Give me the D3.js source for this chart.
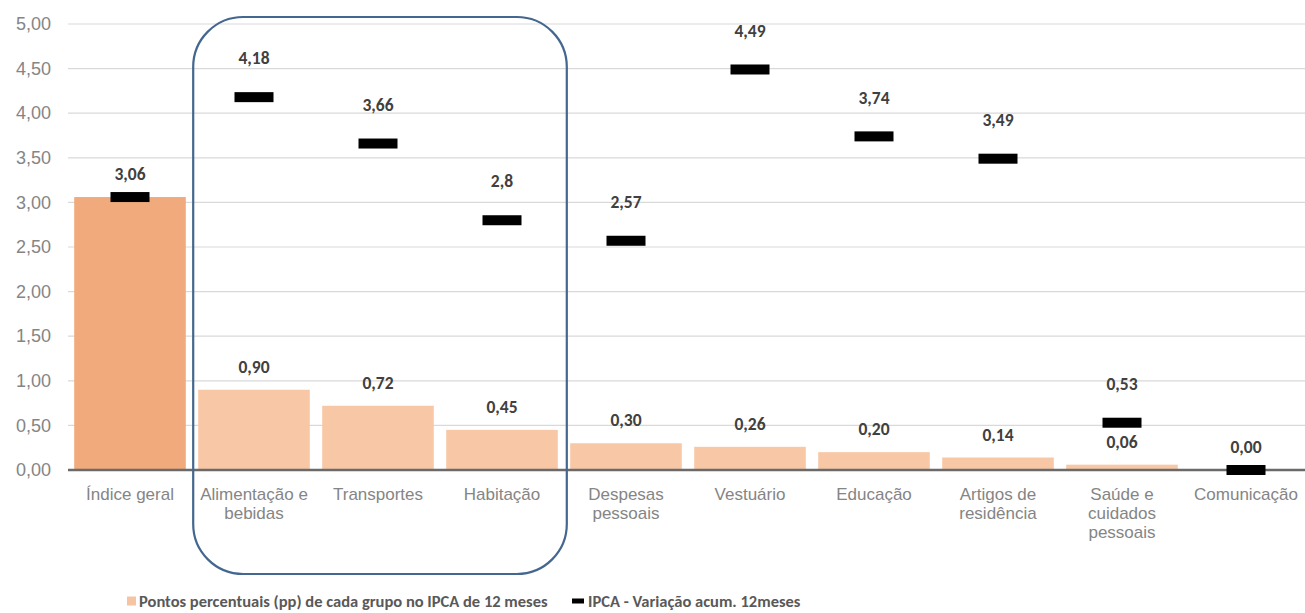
<!DOCTYPE html>
<html lang="pt-BR">
<head>
<meta charset="utf-8">
<title>IPCA 12 meses por grupo</title>
<script src="https://cdn.jsdelivr.net/npm/d3@7"></script>
<style>
  html, body { margin: 0; padding: 0; background: #ffffff; }
  svg { display: block; font-family: Carlito, Calibri, Lato, "Liberation Sans", sans-serif; }
</style>
</head>
<body>
<svg id="chart" width="1305" height="613"></svg>
<script>
// Grupos do IPCA (quebras de linha marcam como o rótulo é exibido)
const categories = [
  "Índice geral",
  "Alimentação e\nbebidas",
  "Transportes",
  "Habitação",
  "Despesas\npessoais",
  "Vestuário",
  "Educação",
  "Artigos de\nresidência",
  "Saúde e\ncuidados\npessoais",
  "Comunicação"
];
// Pontos percentuais de cada grupo no IPCA de 12 meses
const ppValues = [3.06, 0.90, 0.72, 0.45, 0.30, 0.26, 0.20, 0.14, 0.06, 0.00];
// IPCA – variação acumulada em 12 meses
const ipcaValues = [3.06, 4.18, 3.66, 2.80, 2.57, 4.49, 3.74, 3.49, 0.53, 0.00];
const yTicks = [0, 0.5, 1, 1.5, 2, 2.5, 3, 3.5, 4, 4.5, 5];
// Grupos destacados pelo quadro arredondado
const highlighted = ["Alimentação e\nbebidas", "Transportes", "Habitação"];
const legendLabels = [
  "Pontos percentuais (pp) de cada grupo no IPCA de 12 meses",
  "IPCA - Variação acum. 12meses"
];

const svg = d3.select("#chart");
const W = 1305;
const plot = { left: 68, right: 1308, top: 24, bottom: 470 };

const x = d3.scaleBand()
  .domain(categories)
  .range([plot.left, plot.right])
  .paddingInner(0.1)
  .paddingOuter(0.05);

const y = d3.scaleLinear()
  .domain([0, 5])
  .range([plot.bottom, plot.top]);

const fmt = v => d3.format(".2f")(v).replace(".", ",");
const fmtShort = v => String(+v.toFixed(2)).replace(".", ",");

// Linhas de grade horizontais
svg.append("g")
  .selectAll("line")
  .data(yTicks.filter(t => t > 0))
  .join("line")
  .attr("x1", plot.left)
  .attr("x2", W)
  .attr("y1", d => y(d))
  .attr("y2", d => y(d))
  .attr("stroke", "#d9d9d9")
  .attr("stroke-width", 1.2);

// Eixo Y (somente rótulos)
const yAxis = svg.append("g")
  .attr("transform", `translate(${plot.left},0)`)
  .call(d3.axisLeft(y).tickValues(yTicks).tickFormat(fmt).tickSize(0).tickPadding(17));
yAxis.select(".domain").remove();
yAxis.selectAll("text")
  .attr("fill", "#858585")
  .style("font-size", "18px");

// Barras
const idx = d3.range(categories.length);
svg.append("g")
  .selectAll("rect")
  .data(idx)
  .join("rect")
  .attr("x", i => x(categories[i]))
  .attr("width", x.bandwidth())
  .attr("y", i => y(ppValues[i]))
  .attr("height", i => y(0) - y(ppValues[i]))
  .attr("fill", i => i === 0 ? "#f1aa7b" : "#f8c8a6");

// Linha do eixo X
svg.append("line")
  .attr("x1", plot.left)
  .attr("x2", W)
  .attr("y1", y(0))
  .attr("y2", y(0))
  .attr("stroke", "#6a6a6a")
  .attr("stroke-width", 2.5);

// Rótulos das categorias
const xAxis = svg.append("g")
  .attr("transform", `translate(0,${y(0)})`)
  .call(d3.axisBottom(x).tickSize(0).tickFormat(""));
xAxis.select(".domain").remove();
xAxis.selectAll(".tick").each(function(d) {
  const t = d3.select(this).append("text")
    .attr("text-anchor", "middle")
    .attr("fill", "#858585")
    .style("font-size", "17px");
  d.split("\n").forEach((line, k) => {
    t.append("tspan")
      .attr("x", 0)
      .attr("y", 30 + k * 19)
      .text(line);
  });
});

// Rótulos das barras
svg.append("g")
  .selectAll("text")
  .data(idx)
  .join("text")
  .attr("x", i => x(categories[i]) + x.bandwidth() / 2)
  .attr("y", i => y(ppValues[i]) - 23)
  .attr("dy", "0.35em")
  .attr("text-anchor", "middle")
  .attr("fill", "#404040")
  .style("font-size", "17.5px")
  .style("font-weight", "bold")
  .text(i => fmt(ppValues[i]));

// Marcadores do IPCA acumulado
const markW = 39, markH = 10;
svg.append("g")
  .selectAll("rect")
  .data(idx)
  .join("rect")
  .attr("x", i => x(categories[i]) + x.bandwidth() / 2 - markW / 2)
  .attr("y", i => y(ipcaValues[i]) - markH / 2)
  .attr("width", markW)
  .attr("height", markH)
  .attr("fill", "#000000");

// Rótulos dos marcadores (omitidos quando coincidem com o da barra)
svg.append("g")
  .selectAll("text")
  .data(idx.filter(i => ipcaValues[i] !== ppValues[i]))
  .join("text")
  .attr("x", i => x(categories[i]) + x.bandwidth() / 2)
  .attr("y", i => y(ipcaValues[i]) - 39)
  .attr("dy", "0.35em")
  .attr("text-anchor", "middle")
  .attr("fill", "#404040")
  .style("font-size", "17.5px")
  .style("font-weight", "bold")
  .text(i => fmtShort(ipcaValues[i]));

// Quadro arredondado em volta dos grupos destacados
const hx0 = x(highlighted[0]) - 5;
const hx1 = x(highlighted[highlighted.length - 1]) + x.bandwidth() + 9;
svg.append("rect")
  .attr("x", hx0)
  .attr("y", y(5) - 7)
  .attr("width", hx1 - hx0)
  .attr("height", 574 - (y(5) - 7))
  .attr("rx", 50)
  .attr("ry", 50)
  .attr("fill", "none")
  .attr("stroke", "#44678f")
  .attr("stroke-width", 2.2);

// Legenda
const legend = svg.append("g").attr("transform", "translate(0,601)");
legend.append("rect")
  .attr("x", 127).attr("y", -4.5)
  .attr("width", 9).attr("height", 9)
  .attr("fill", "#f6c4a2");
legend.append("text")
  .attr("x", 139).attr("dy", "0.35em")
  .attr("fill", "#595959")
  .style("font-size", "16.5px")
  .style("font-weight", "bold")
  .text(legendLabels[0]);
legend.append("rect")
  .attr("x", 572).attr("y", -2.5)
  .attr("width", 12).attr("height", 5)
  .attr("fill", "#000000");
legend.append("text")
  .attr("x", 588).attr("dy", "0.35em")
  .attr("fill", "#595959")
  .style("font-size", "16.5px")
  .style("font-weight", "bold")
  .text(legendLabels[1]);
</script>
</body>
</html>
